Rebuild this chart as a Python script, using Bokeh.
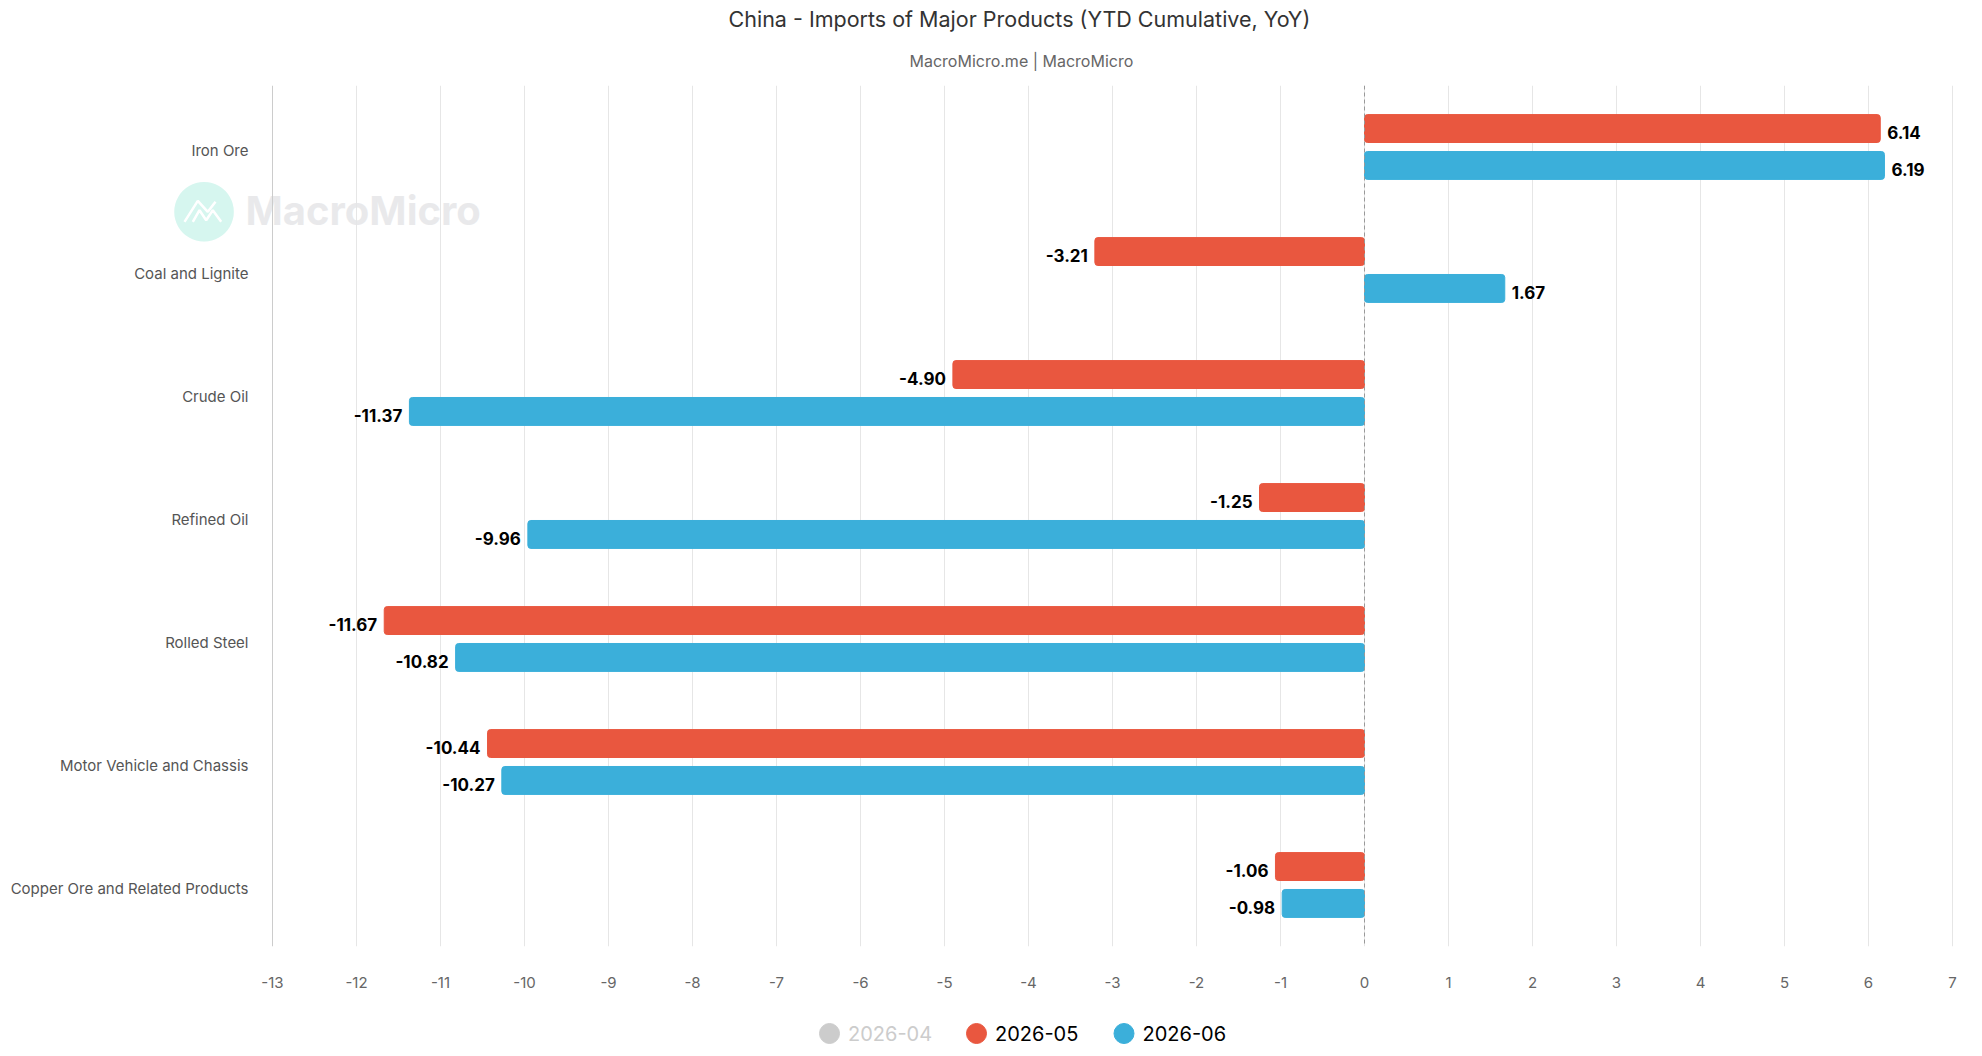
from bokeh.plotting import figure
from bokeh.layouts import column
from bokeh.models import (ColumnDataSource, FactorRange, Span, Label, FixedTicker,
                          PolyAnnotation, Title)
from bokeh.transform import dodge
from bokeh.core.properties import value
from bokeh.embed import file_html
from bokeh.resources import INLINE

# data
categories = ["Iron Ore", "Coal and Lignite", "Crude Oil", "Refined Oil",
              "Rolled Steel", "Motor Vehicle and Chassis", "Copper Ore and Related Products"]
may_2026 = [6.14, -3.21, -4.90, -1.25, -11.67, -10.44, -1.06]
jun_2026 = [6.19, 1.67, -11.37, -9.96, -10.82, -10.27, -0.98]
series_names = ["2026-04", "2026-05", "2026-06"]
x_ticks = list(range(-13, 8))

RED = "#E9573F"
BLUE = "#3BAFDA"
GREY = "#cccccc"
FONT = "Inter"

# geometry (px): value axis -13..7 spans 1680 px; frame covers the full canvas width
W = 1966
H_MAIN, H_LEG = 996, 54
px_per_unit = 1680 / 20
x_lo = x_ticks[0] - 272 / px_per_unit
x_hi = x_ticks[-1] + 14 / px_per_unit


def make_source(vals):
    return ColumnDataSource(dict(
        cat=categories,
        val=vals,
        txt=["%.2f" % v for v in vals],
        align=["left" if v >= 0 else "right" for v in vals],
        xoff=[7 if v >= 0 else -7 for v in vals],
    ))


src_may = make_source(may_2026)
src_jun = make_source(jun_2026)

p = figure(width=W, height=H_MAIN, output_backend="svg", toolbar_location=None,
           y_range=FactorRange(factors=list(reversed(categories))),
           x_range=(x_lo, x_hi),
           min_border_left=0, min_border_right=0, min_border_top=83, min_border_bottom=50)
p.outline_line_color = None

# title / subtitle
p.title.text = "China - Imports of Major Products (YTD Cumulative, YoY)"
p.title.align = "left"
p.title.offset = 728
p.title.text_font = FONT
p.title.text_font_size = "21.5px"
p.title.text_font_style = "normal"
p.title.text_color = "#333333"
p.title.standoff = 6
p.add_layout(Title(text="MacroMicro.me | MacroMicro", align="left", offset=909,
                   text_font=FONT, text_font_size="16px", text_font_style="normal",
                   text_color="#666666", standoff=29), "above")

# watermark
p.add_layout(Label(x=203.5, y=741.5, x_units="screen", y_units="screen", text="\u25CF",
                   text_font="DejaVu Sans", text_font_size="78px",
                   text_color="#d6f6ef", text_align="center", text_baseline="middle"))
for xs, ys in [([184, 197.3, 207.3, 215], [724.7, 745.7, 734.7, 744.7]),
               ([192.3, 199, 205.7, 212.3, 220.7], [724.7, 736.3, 726.3, 736.3, 724.7])]:
    p.add_layout(PolyAnnotation(xs=xs + xs[-2::-1], ys=ys + ys[-2::-1],
                                xs_units="screen", ys_units="screen",
                                fill_alpha=0, line_color="white", line_alpha=1,
                                line_width=2.5))
p.add_layout(Label(x=245, y=736, x_units="screen", y_units="screen", text="MacroMicro",
                   text_font=FONT, text_font_size="40px", text_font_style="bold",
                   text_color="#e5e6e8", text_alpha=0.85, text_align="left",
                   text_baseline="middle"))

# grid + value axis
p.ygrid.grid_line_color = None
p.xgrid.grid_line_color = "#e6e6e6"
p.xgrid.ticker = FixedTicker(ticks=x_ticks[1:])
p.xaxis.ticker = FixedTicker(ticks=x_ticks)
p.xaxis.major_label_overrides = {t: str(t) for t in x_ticks}
p.xaxis.axis_line_color = None
p.xaxis.major_tick_line_color = None
p.xaxis.minor_tick_line_color = None
p.xaxis.major_tick_out = 0
p.xaxis.major_label_standoff = 30
p.xaxis.major_label_text_font = FONT
p.xaxis.major_label_text_font_size = "15px"
p.xaxis.major_label_text_color = "#666666"
p.yaxis.visible = False

# category axis line and labels
p.add_layout(Span(location=x_ticks[0], dimension="height", line_color="#cccccc", line_width=1))
cat_src = ColumnDataSource(dict(cat=categories, x=[x_ticks[0]] * len(categories)))
p.text(x="x", y="cat", text="cat", source=cat_src, x_offset=-24, y_offset=3,
       text_align="right", text_baseline="middle", text_font=value(FONT),
       text_font_size="15px", text_color="#555555")

# zero line
p.add_layout(Span(location=0, dimension="height", line_color="#999999",
                  line_dash="4 3", line_width=1))

# bars + value labels
for src, off, col in [(src_may, 0.15, RED), (src_jun, -0.15, BLUE)]:
    p.hbar(y=dodge("cat", off, range=p.y_range), left=0, right="val", height=0.227,
           source=src, fill_color=col, line_color=col, line_width=1, border_radius=3)
    p.text(x="val", y=dodge("cat", off, range=p.y_range), text="txt", source=src,
           text_align="align", x_offset="xoff", y_offset=4, text_baseline="middle",
           text_font=value(FONT), text_font_size="17px", text_font_style="bold",
           text_color="#000000")

# legend strip (2026-04 is a hidden series, shown greyed out)
leg = figure(width=W, height=H_LEG, output_backend="svg", toolbar_location=None,
             x_range=(0, W), y_range=(0, H_LEG), min_border=0)
leg.axis.visible = False
leg.grid.visible = False
leg.outline_line_color = None
leg_src = ColumnDataSource(dict(
    name=series_names,
    x=[829, 976, 1123.5],
    color=[GREY, RED, BLUE],
    tcolor=[GREY, "#000000", "#000000"],
))
leg.scatter(x="x", y=17, size=20, marker="circle", fill_color="color", line_color="color",
            source=leg_src)
leg.text(x="x", y=17, text="name", x_offset=18.5, text_align="left", text_baseline="middle",
         text_font=value(FONT), text_font_size="20px", text_color="tcolor", source=leg_src)

layout = column(p, leg, spacing=0)
open("out.html", "w").write(file_html(layout, INLINE))
